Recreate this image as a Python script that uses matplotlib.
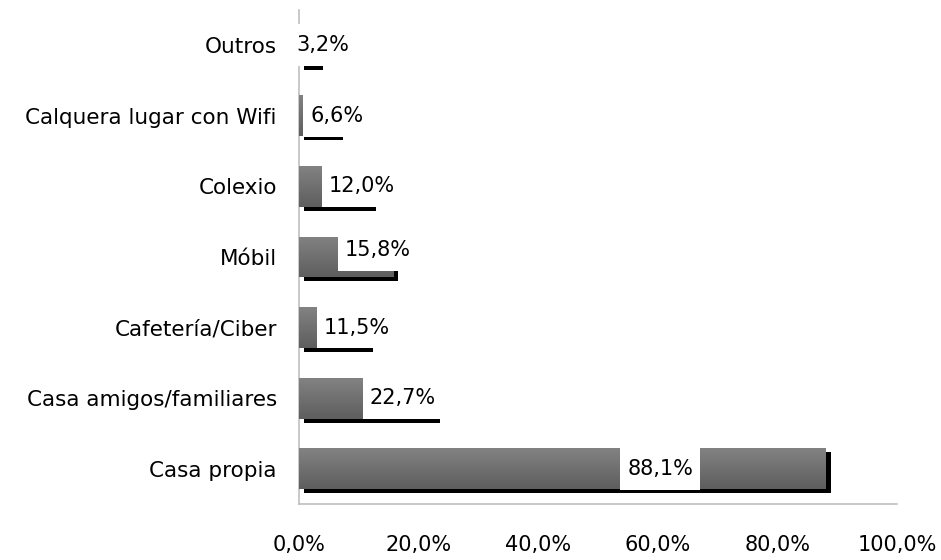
import numpy as np
import matplotlib
matplotlib.use("Agg")
import matplotlib.pyplot as plt
import matplotlib.transforms as mtransforms
from matplotlib.colors import LinearSegmentedColormap
from matplotlib.ticker import FuncFormatter, MultipleLocator
from matplotlib.path import Path

# ---- data ----
categories = ["Casa propia", "Casa amigos/familiares", "Cafetería/Ciber",
              "Móbil", "Colexio", "Calquera lugar con Wifi", "Outros"]
values = [88.1, 22.7, 11.5, 15.8, 12.0, 6.6, 3.2]
value_labels = ["88,1%", "22,7%", "11,5%", "15,8%", "12,0%", "6,6%", "3,2%"]

# ---- layout (label placement as in the reference, in data units) ----
label_x = [60.4, 17.4, 9.7, 13.2, 10.5, 6.35, 4.0]
label_dy = [0.0, 0.0, 0.0, 0.1, 0.0, 0.0, 0.0]

plt.rcParams['font.family'] = ['DejaVu Sans']


def label_box(x0, y0, width, height, mutation_size):
    padx = 0.34 * mutation_size
    pady = 0.52 * mutation_size
    x0, y0 = x0 - padx, y0 - pady
    x1, y1 = x0 + width + 2 * padx, y0 + height + 2 * pady
    return Path([(x0, y0), (x1, y0), (x1, y1), (x0, y1), (x0, y0)],
                closed=True)


fig = plt.figure(figsize=(9.41, 5.60), dpi=100)
ax = fig.add_axes([299/941, 56/560, 598/941, 494/560])

ypos = np.arange(len(categories))
bar_h = 0.58

# shadow bars
shadow_tr = ax.transData + mtransforms.ScaledTranslation(5/100, -4/100, fig.dpi_scale_trans)
ax.barh(ypos, values, height=bar_h, color="black", transform=shadow_tr, zorder=1)

# main bars with vertical gradient
cmap = LinearSegmentedColormap.from_list("g", ["#828282", "#5e5e5e"])
grad = np.linspace(0, 1, 64).reshape(-1, 1)
bars = ax.barh(ypos, values, height=bar_h, color="#707070", zorder=2)
for b in bars:
    x0, y0 = b.get_x(), b.get_y()
    w, h = b.get_width(), b.get_height()
    im = ax.imshow(grad, cmap=cmap, aspect="auto", origin="upper",
                   extent=(x0, x0 + w, y0, y0 + h), zorder=2.1, interpolation="bilinear")
    im.set_clip_path(b)

# value labels with white boxes
for i, (lx, lab) in enumerate(zip(label_x, value_labels)):
    ax.text(lx, ypos[i] + label_dy[i], lab, ha="center", va="center", fontsize=15,
            color="black", zorder=5,
            bbox=dict(boxstyle=label_box, facecolor="white", edgecolor="none"))

ax.set_xlim(0, 100)
ax.set_ylim(-0.5, len(categories) - 0.5)
ax.set_yticks(ypos)
ax.set_yticklabels(categories)
ax.xaxis.set_major_locator(MultipleLocator(20))
ax.xaxis.set_major_formatter(FuncFormatter(lambda v, p: f"{v:.1f}".replace(".", ",") + "%"))

ax.tick_params(axis="both", length=0, labelsize=15, colors="black")
ax.tick_params(axis="y", pad=16, labelsize=15.5)
ax.tick_params(axis="x", pad=22)

for s in ["top", "right"]:
    ax.spines[s].set_visible(False)
for s in ["left", "bottom"]:
    ax.spines[s].set_color("#bfbfbf")
    ax.spines[s].set_linewidth(1.2)
    ax.spines[s].set_zorder(0.5)

fig.savefig("out.png", dpi=100, facecolor="white")
